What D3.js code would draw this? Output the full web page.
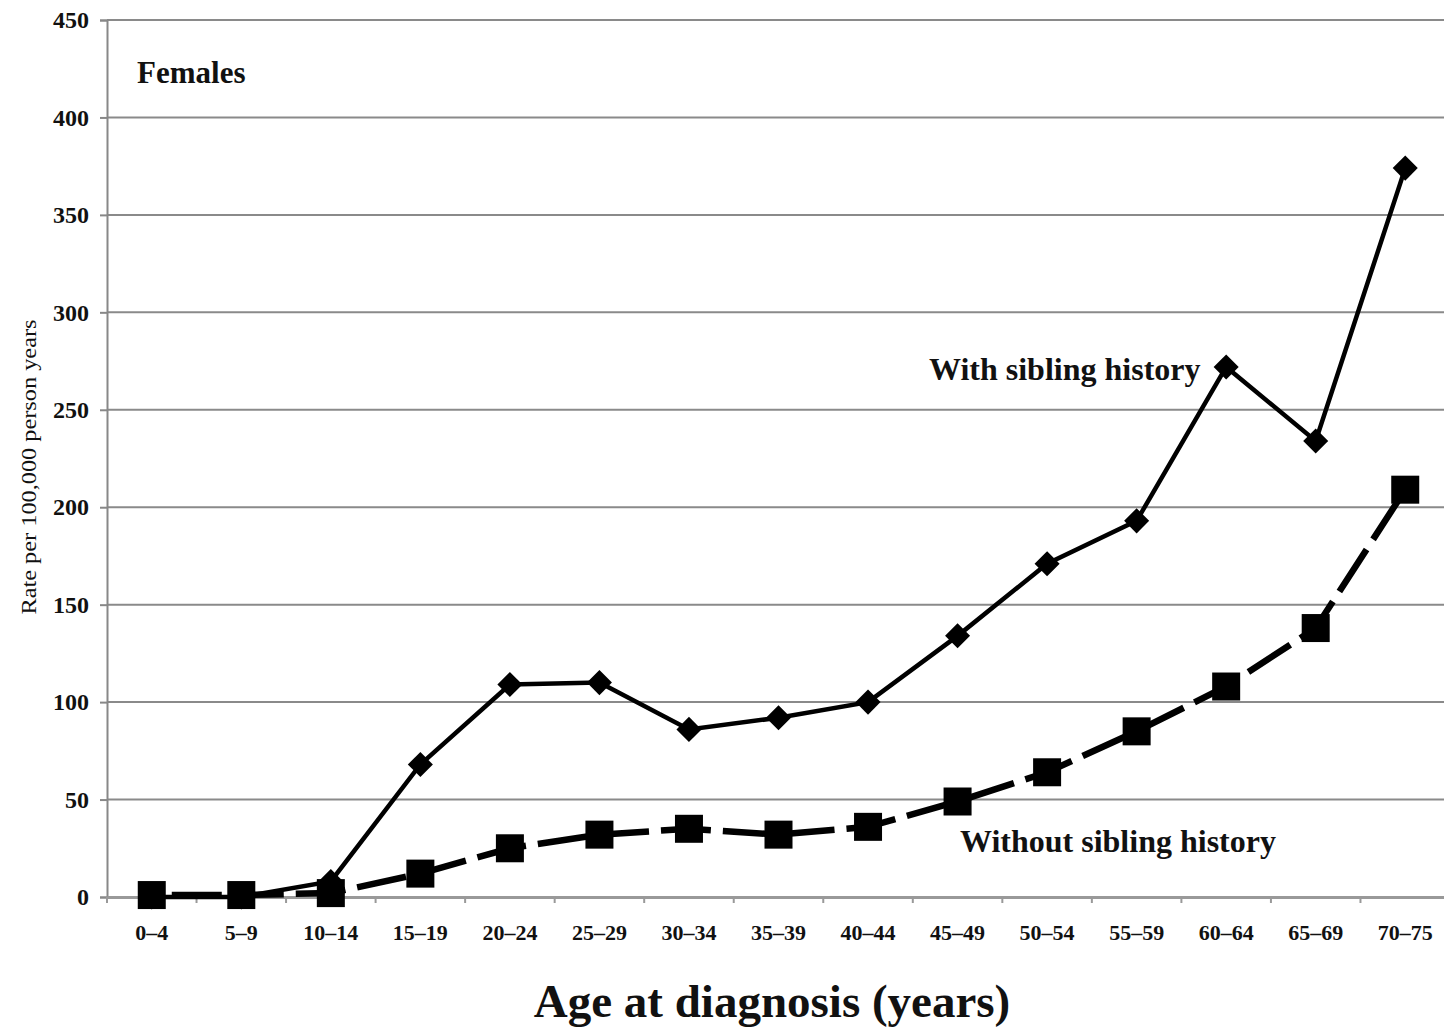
<!DOCTYPE html>
<html>
<head>
<meta charset="utf-8">
<script src="https://cdn.jsdelivr.net/npm/d3@7/dist/d3.min.js"></script>
<style>
  body { margin: 0; background: #fff; }
  text { font-family: "Liberation Serif", "Times New Roman", serif; font-weight: bold; fill: #111; }
</style>
</head>
<body>
<div id="chart"></div>
<script>
// age groups and rates
const AGE_GROUPS = ["0–4", "5–9", "10–14", "15–19", "20–24", "25–29", "30–34", "35–39",
                    "40–44", "45–49", "50–54", "55–59", "60–64", "65–69", "70–75"]
const WITH_SIBLING    = [0, 0, 8, 68, 109, 110, 86, 92, 100, 134, 171, 193, 272, 234, 374]
const WITHOUT_SIBLING = [1, 1, 2, 12, 25, 32, 35, 32, 36, 49, 64, 85, 108, 138, 209]
const Y_TICKS = [0, 50, 100, 150, 200, 250, 300, 350, 400, 450]

const W = 1444, H = 1029
const MARGIN = {top: 20, right: -6, bottom: 132, left: 107}
const PW = W - MARGIN.left - MARGIN.right,
      PH = H - MARGIN.top - MARGIN.bottom

const svg = d3.select("#chart").append("svg")
    .attr("width", W)
    .attr("height", H)

const g = svg.append("g")
    .attr("transform", `translate(${MARGIN.left}, ${MARGIN.top})`)

const x = d3.scaleBand()
    .domain(AGE_GROUPS)
    .range([0, PW])

const y = d3.scaleLinear()
    .domain([0, 450])
    .range([PH, 0])

// gridlines
g.append("g")
    .selectAll("line")
    .data(Y_TICKS.filter(d => d > 0))
    .join("line")
        .attr("x1", 0)
        .attr("x2", PW)
        .attr("y1", d => y(d))
        .attr("y2", d => y(d))
        .attr("stroke", "#8a8a8a")
        .attr("stroke-width", 2)

// y axis
const yAxis = g.append("g")
    .call(d3.axisLeft(y).tickValues(Y_TICKS).tickSize(7).tickPadding(11))
yAxis.select(".domain").attr("stroke", "#888").attr("stroke-width", 2)
yAxis.selectAll(".tick line").attr("stroke", "#888").attr("stroke-width", 2)
yAxis.selectAll(".tick text").style("font-size", "24px")

// x axis with ticks at category boundaries
const xAxis = g.append("g")
    .attr("transform", `translate(0, ${PH})`)
    .call(d3.axisBottom(x).tickSize(0).tickPadding(27))
xAxis.select(".domain").attr("stroke", "#999").attr("stroke-width", 3)
xAxis.selectAll(".tick text").style("font-size", "22px")
xAxis.selectAll("line.sep")
    .data(AGE_GROUPS)
    .join("line")
        .attr("class", "sep")
        .attr("x1", d => x(d))
        .attr("x2", d => x(d))
        .attr("y1", 0)
        .attr("y2", 6)
        .attr("stroke", "#999")
        .attr("stroke-width", 2)

const line = d3.line()
    .x((d, i) => x(AGE_GROUPS[i]) + x.bandwidth() / 2)
    .y(d => y(d))

// without sibling history: dashed + squares
g.append("path")
    .datum(WITHOUT_SIBLING)
    .attr("d", line)
    .attr("fill", "none")
    .attr("stroke", "#000")
    .attr("stroke-width", 6.5)
    .attr("stroke-dasharray", "50 12")
    .attr("stroke-dashoffset", 42)

g.selectAll("rect.sq")
    .data(WITHOUT_SIBLING)
    .join("rect")
        .attr("class", "sq")
        .attr("x", (d, i) => x(AGE_GROUPS[i]) + x.bandwidth() / 2 - 14)
        .attr("y", d => y(d) - 14)
        .attr("width", 28)
        .attr("height", 28)
        .attr("fill", "#000")

// with sibling history: solid + diamonds
g.append("path")
    .datum(WITH_SIBLING)
    .attr("d", line)
    .attr("fill", "none")
    .attr("stroke", "#000")
    .attr("stroke-width", 4.5)

const diamond = d3.symbol().type(d3.symbolDiamond2).size(400)
g.selectAll("path.dm")
    .data(WITH_SIBLING)
    .join("path")
        .attr("class", "dm")
        .attr("transform", (d, i) => `translate(${x(AGE_GROUPS[i]) + x.bandwidth() / 2}, ${y(d)})`)
        .attr("d", diamond)
        .attr("fill", "#000")

// annotations
g.append("text")
    .attr("x", 30)
    .attr("y", 63)
    .style("font-size", "31px")
    .text("Females")

g.append("text")
    .attr("x", 822)
    .attr("y", 360)
    .style("font-size", "32px")
    .text("With sibling history")

g.append("text")
    .attr("x", 853)
    .attr("y", 832)
    .style("font-size", "32px")
    .text("Without sibling history")

// axis titles
svg.append("text")
    .attr("x", 772)
    .attr("y", 1017)
    .attr("text-anchor", "middle")
    .style("font-size", "47px")
    .text("Age at diagnosis (years)")

svg.append("text")
    .attr("transform", "translate(36, 467) rotate(-90)")
    .attr("text-anchor", "middle")
    .attr("textLength", 295)
    .attr("lengthAdjust", "spacingAndGlyphs")
    .style("font-size", "20px")
    .style("font-weight", "normal")
    .text("Rate per 100,000 person years")
</script>
</body>
</html>
